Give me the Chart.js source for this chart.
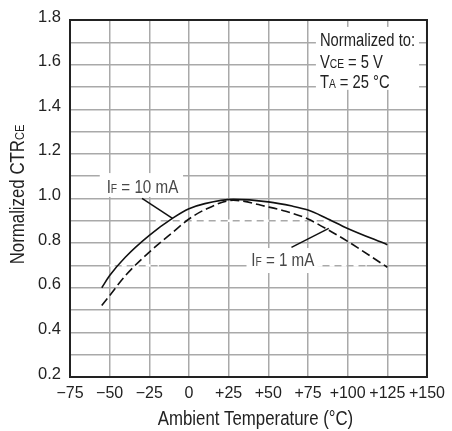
<!DOCTYPE html>
<html>
<head>
<meta charset="utf-8">
<script src="https://cdn.jsdelivr.net/npm/chart.js@4.4.1/dist/chart.umd.min.js"></script>
<style>
  html, body { margin: 0; padding: 0; background: #fff; }
  #wrap { width: 452px; height: 431px; }
</style>
</head>
<body>
<div id="wrap"><canvas id="c"></canvas></div>
<script>
// ambient temperature (°C) vs normalized CTR
const temps10  = [-55, -50, -40, -25, -10, 0, 10, 28, 50, 65, 75, 86, 100, 125];
const ctr10mA  = [0.60, 0.655, 0.738, 0.835, 0.913, 0.954, 0.977, 0.996, 0.985, 0.966, 0.948, 0.914, 0.866, 0.793];
const temps1   = [-55, -50, -40, -25, -10, 0, 10, 28, 50, 61, 75, 90, 100, 125];
const ctr1mA   = [0.52, 0.565, 0.655, 0.76, 0.85, 0.908, 0.95, 0.992, 0.962, 0.943, 0.908, 0.85, 0.808, 0.692];
const xTicks   = [-75, -50, -25, 0, 25, 50, 75, 100, 125, 150];
const yTicks   = [0.2, 0.4, 0.6, 0.8, 1.0, 1.2, 1.4, 1.6, 1.8];

const SANS = '"Liberation Sans", Arial, sans-serif';
const SQUEEZE = 0.82;   // fake a condensed face
const INK = '#222';
const GRID = '#a9a9a9';

// text runs: [string, size]; the small runs are subscripts
function richWidth(ctx, parts) {
  let w = 0;
  for (const [t, s] of parts) { ctx.font = s + 'px ' + SANS; w += ctx.measureText(t).width; }
  return w * SQUEEZE;
}
function drawRich(ctx, parts, x, y) {
  ctx.save();
  ctx.translate(x, y);
  ctx.scale(SQUEEZE, 1);
  let cx = 0;
  for (const [t, s] of parts) {
    ctx.font = s + 'px ' + SANS;
    ctx.fillText(t, cx, 0);
    cx += ctx.measureText(t).width;
  }
  ctx.restore();
}

const fmtX = v => v < 0 ? '\u2212' + Math.abs(v) : (v > 0 ? '+' + v : '0');

const extras = {
  id: 'extras',
  beforeDatasetsDraw(chart) {
    const { ctx, chartArea: a, scales: { x, y } } = chart;
    ctx.save();
    // grid lines that came out broken in the scan
    ctx.strokeStyle = '#fff';
    ctx.lineWidth = 2.5;
    ctx.setLineDash([5, 7]);
    const broken = [[0.9, -21, 89], [0.7, -50, -19], [0.7, 81, 112]];
    for (const [v, x0, x1] of broken) {
      ctx.beginPath();
      ctx.moveTo(x.getPixelForValue(x0), y.getPixelForValue(v));
      ctx.lineTo(x.getPixelForValue(x1), y.getPixelForValue(v));
      ctx.stroke();
    }
    ctx.setLineDash([]);
    // white patches behind the notes
    ctx.fillStyle = '#fff';
    const rects = [[-56.25, 1.114, -3.75, 1.007], [36.25, 0.778, 81.25, 0.666], [80, 1.769, 145, 1.487]];
    for (const [x0, y0, x1, y1] of rects) {
      const px0 = x.getPixelForValue(x0), py0 = y.getPixelForValue(y0);
      ctx.fillRect(px0, py0, x.getPixelForValue(x1) - px0, y.getPixelForValue(y1) - py0);
    }
    // frame
    ctx.strokeStyle = INK;
    ctx.lineWidth = 2;
    ctx.strokeRect(a.left, a.top, a.right - a.left, a.bottom - a.top);
    ctx.restore();
  },
  afterDatasetsDraw(chart) {
    const { ctx, chartArea: a, scales: { x, y } } = chart;
    ctx.save();
    ctx.textBaseline = 'alphabetic';

    // leader lines
    ctx.strokeStyle = '#111';
    ctx.lineWidth = 1.5;
    const leaders = [[-29.6, 1.001, -10.4, 0.911], [64.6, 0.781, 88.1, 0.866]];
    for (const [x0, y0, x1, y1] of leaders) {
      ctx.beginPath();
      ctx.moveTo(x.getPixelForValue(x0), y.getPixelForValue(y0));
      ctx.lineTo(x.getPixelForValue(x1), y.getPixelForValue(y1));
      ctx.stroke();
    }

    // curve labels
    ctx.fillStyle = '#484848';
    drawRich(ctx, [['I', 18.5], ['F', 12.5], [' = 10 mA', 18.5]], x.getPixelForValue(-51.9), y.getPixelForValue(1.025));
    drawRich(ctx, [['I', 18.5], ['F', 12.5], [' = 1 mA', 18.5]], x.getPixelForValue(39.2), y.getPixelForValue(0.6975));

    // conditions note
    ctx.fillStyle = INK;
    const nx = x.getPixelForValue(82.5);
    drawRich(ctx, [['Normalized to:', 18]], nx, y.getPixelForValue(1.683));
    drawRich(ctx, [['V', 18], ['CE', 12.5], [' = 5 V', 18]], nx, y.getPixelForValue(1.5835));
    drawRich(ctx, [['T', 18], ['A', 12.5], [' = 25 \u00B0C', 18]], nx, y.getPixelForValue(1.494));

    // x axis title
    const xt = [['Ambient Temperature (\u00B0C)', 20.5]];
    drawRich(ctx, xt, (a.left + a.right) / 2 + 7 - richWidth(ctx, xt) / 2, 425);

    // y axis title, rotated
    const yt = [['Normalized CTR', 20.5], ['CE', 13.5]];
    ctx.translate(24, (a.top + a.bottom) / 2 - 4);
    ctx.rotate(-Math.PI / 2);
    drawRich(ctx, yt, -richWidth(ctx, yt) / 2, 0);
    ctx.restore();
  }
};

new Chart(document.getElementById('c'), {
  type: 'line',
  data: {
    datasets: [
      {
        label: 'IF = 10 mA',
        data: temps10.map((t, i) => ({ x: t, y: ctr10mA[i] })),
        borderColor: '#111',
        borderWidth: 1.6,
        pointRadius: 0,
        cubicInterpolationMode: 'monotone',
        fill: false
      },
      {
        label: 'IF = 1 mA',
        data: temps1.map((t, i) => ({ x: t, y: ctr1mA[i] })),
        borderColor: '#111',
        borderWidth: 1.6,
        borderDash: [9, 4],
        pointRadius: 0,
        cubicInterpolationMode: 'monotone',
        fill: false
      }
    ]
  },
  options: {
    responsive: true,
    maintainAspectRatio: false,
    animation: false,
    layout: { padding: { left: 0, top: 20, right: 22, bottom: 0 } },
    plugins: { legend: { display: false }, tooltip: { enabled: false } },
    scales: {
      x: {
        type: 'linear',
        min: -75,
        max: 150,
        afterBuildTicks: s => { s.ticks = xTicks.map(v => ({ value: v })); },
        afterFit: s => { s.height = 54; },
        grid: { color: GRID, lineWidth: 1.5, drawTicks: false },
        border: { display: false },
        ticks: {
          padding: 7,
          maxRotation: 0,
          autoSkip: false,
          color: INK,
          font: { family: SANS, size: 16 },
          callback: v => fmtX(v)
        }
      },
      y: {
        type: 'linear',
        min: 0.2,
        max: 1.8,
        afterFit: s => { s.width = 70; },
        grid: { color: GRID, lineWidth: 1.5, drawTicks: false },
        border: { display: false },
        ticks: {
          stepSize: 0.1,
          padding: 9,
          labelOffset: -3,
          autoSkip: false,
          color: INK,
          font: { family: SANS, size: 16.5 },
          callback: v => yTicks.some(t => Math.abs(t - v) < 1e-6) ? v.toFixed(1) : ''
        }
      }
    }
  },
  plugins: [extras]
});
</script>
</body>
</html>
